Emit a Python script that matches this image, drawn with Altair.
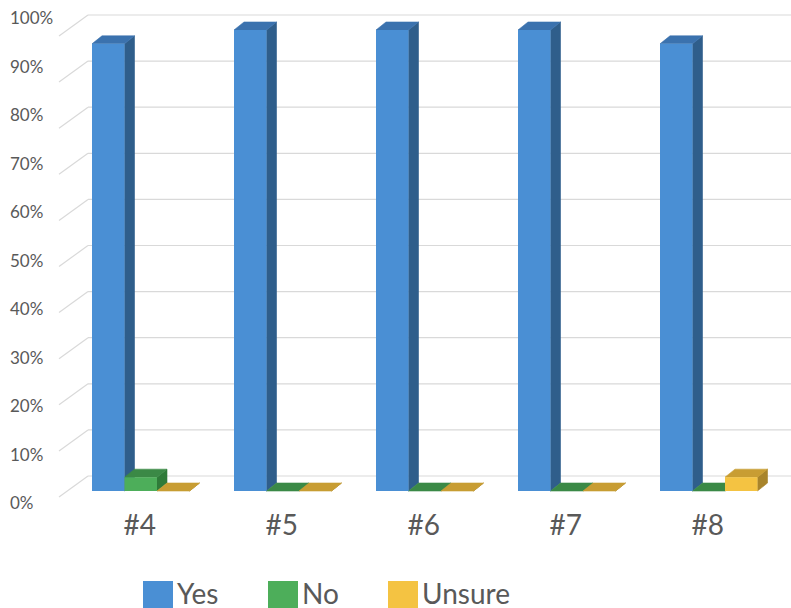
import altair as alt
import pandas as pd

# ---------------- data ----------------
categories = ["#4", "#5", "#6", "#7", "#8"]
series_names = ["Yes", "No", "Unsure"]
yes_vals = [97, 100, 100, 100, 97]
no_vals = [3, 0, 0, 0, 0]
unsure_vals = [0, 0, 0, 0, 3]
tick_values = [0, 10, 20, 30, 40, 50, 60, 70, 80, 90, 100]
tick_labels = [f"{v}%" for v in tick_values]

# ---------------- styling / layout ----------------
front_colors = ["#4A8FD4", "#4DAE5A", "#F4C342"]
side_colors = ["#2F5E8B", "#2F7B39", "#A8842B"]
top_colors = ["#3B72AE", "#3B8946", "#C89D33"]
text_color = "#595959"
grid_color = "#D9D9D9"
FONT = "Lato"

W, H = 791, 608
BASE_PX = 491          # pixel row of the bar bases
PX_PER_PCT = 4.61      # pixels per percent on the bar plane
y_domain = [(BASE_PX - H) / PX_PER_PCT, BASE_PX / PX_PER_PCT]
LABEL_BASE_PX = 504    # axis labels run on their own (perspective) spacing
LABEL_PX_PER_PCT = 4.85
label_domain = [(LABEL_BASE_PX - H) / LABEL_PX_PER_PCT, LABEL_BASE_PX / LABEL_PX_PER_PCT]

X0 = 92
GROUP_STEP = 142
BAR_W = 32.5
DEPTH_X = 10
DEPTH_Y = 8 / PX_PER_PCT
WALL_BACK = 15 / PX_PER_PCT      # back wall offset above the bar plane
WALL_FRONT = -6 / PX_PER_PCT     # front floor edge offset

xs = alt.Scale(domain=[0, W], nice=False, zero=False)
ys = alt.Scale(domain=y_domain, nice=False, zero=False)
ls = alt.Scale(domain=label_domain, nice=False, zero=False)

values = [yes_vals, no_vals, unsure_vals]

front_rows, side_rows, top_rows, cat_rows = [], [], [], []
for gi, cat in enumerate(categories):
    for si, s in enumerate(series_names):
        v = values[si][gi]
        xl = X0 + gi * GROUP_STEP + si * BAR_W
        xr = xl + BAR_W
        bid = f"{cat}-{s}"
        front_rows.append(dict(cat=cat, series=s, xl=xl, xr=xr, zero=0, v=v))
        side_rows.append(dict(bar=bid, x=xr, ylo=0, yhi=v, color=side_colors[si]))
        side_rows.append(dict(bar=bid, x=xr + DEPTH_X, ylo=DEPTH_Y, yhi=v + DEPTH_Y, color=side_colors[si]))
        top_rows.append(dict(bar=bid, y=v, xa=xl, xb=xr, color=top_colors[si]))
        top_rows.append(dict(bar=bid, y=v + DEPTH_Y, xa=xl + DEPTH_X, xb=xr + DEPTH_X, color=top_colors[si]))
    cat_rows.append(dict(cat=cat, cx=X0 + gi * GROUP_STEP + 1.5 * BAR_W - 1))

front_df = pd.DataFrame(front_rows)
side_df = pd.DataFrame(side_rows)
top_df = pd.DataFrame(top_rows)
cat_df = pd.DataFrame(cat_rows)
grid_df = pd.DataFrame({"v": tick_values})
grid_df["back"] = grid_df["v"] + WALL_BACK
grid_df["front"] = grid_df["v"] + WALL_FRONT
tick_df = pd.DataFrame({"v": tick_values, "label": tick_labels})

grid_h = alt.Chart(grid_df).mark_rule(color=grid_color, strokeWidth=1.2).encode(
    x=alt.value(88), x2=alt.value(W),
    y=alt.Y("back:Q", scale=ys, axis=None), y2=alt.Y2("back:Q"),
)
grid_d = alt.Chart(grid_df).mark_rule(color=grid_color, strokeWidth=1.2).encode(
    x=alt.value(59), x2=alt.value(88),
    y=alt.Y("front:Q", scale=ys, axis=None), y2=alt.Y2("back:Q"),
)

side = alt.Chart(side_df).mark_area(opacity=1, strokeWidth=0.6).encode(
    x=alt.X("x:Q", scale=xs, axis=None),
    y=alt.Y("ylo:Q", scale=ys, axis=None),
    y2=alt.Y2("yhi:Q"),
    detail="bar:N",
    color=alt.Color("color:N", scale=None),
    stroke=alt.Stroke("color:N", scale=None),
)

top = alt.Chart(top_df).mark_area(orient="horizontal", opacity=1, strokeWidth=0.6).encode(
    y=alt.Y("y:Q", scale=ys, axis=None),
    x=alt.X("xa:Q", scale=xs, axis=None),
    x2=alt.X2("xb:Q"),
    detail="bar:N",
    color=alt.Color("color:N", scale=None),
    stroke=alt.Stroke("color:N", scale=None),
)

front = alt.Chart(front_df).mark_rect().encode(
    x=alt.X("xl:Q", scale=xs, axis=None),
    x2=alt.X2("xr:Q"),
    y=alt.Y("zero:Q", scale=ys, axis=None),
    y2=alt.Y2("v:Q"),
    color=alt.Color(
        "series:N",
        scale=alt.Scale(domain=series_names, range=front_colors),
        legend=alt.Legend(
            orient="none", legendX=143, legendY=581, direction="horizontal",
            title=None, symbolType="square", symbolSize=900, symbolStrokeWidth=0,
            symbolOpacity=1, labelFont=FONT, labelFontSize=28, labelColor=text_color,
            labelOffset=4, columnPadding=49, labelLimit=400,
        ),
    ),
)

cat_labels = alt.Chart(cat_df).mark_text(
    font=FONT, fontSize=28, color=text_color, align="center", baseline="middle"
).encode(
    x=alt.X("cx:Q", scale=xs, axis=None),
    y=alt.value(527),
    text="cat:N",
)

bars = alt.layer(grid_h, grid_d, side, top, front, cat_labels)

tick_text = alt.Chart(tick_df).mark_text(
    font=FONT, fontSize=17, color=text_color, align="left", baseline="middle"
).encode(
    x=alt.value(10),
    y=alt.Y("v:Q", scale=ls, axis=None),
    text="label:N",
)

chart = alt.layer(bars, tick_text).resolve_scale(y="independent").properties(
    width=W, height=H, padding=0, autosize="none", background="white"
).configure_view(stroke=None)

chart.save("out.html", embed_options={"renderer": "svg", "actions": False})
